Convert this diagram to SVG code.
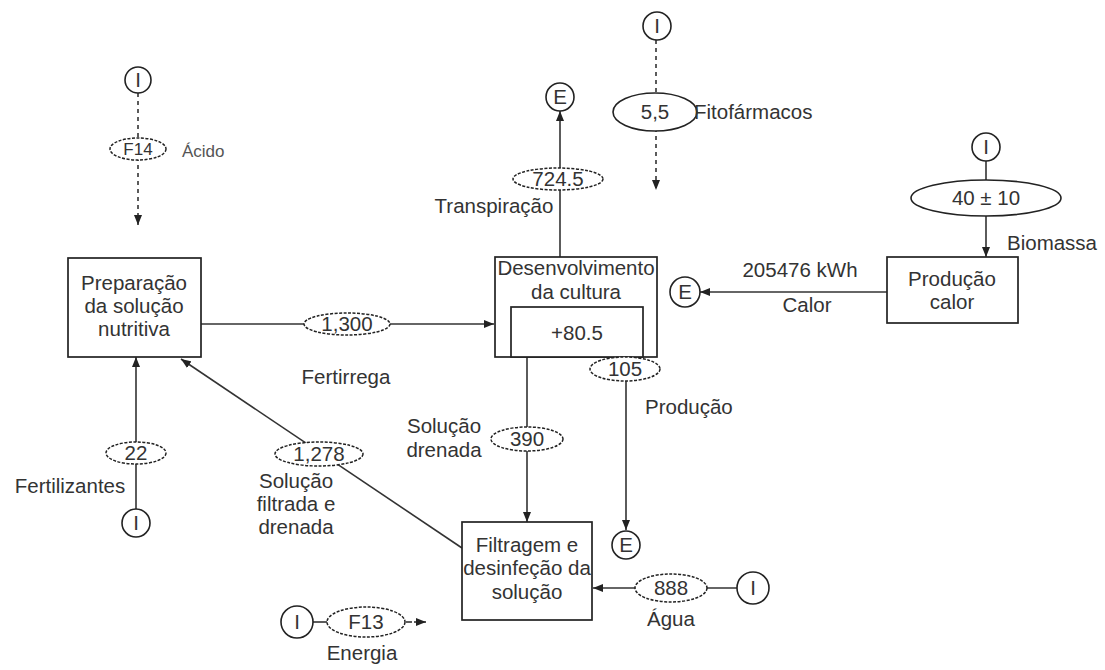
<svg xmlns="http://www.w3.org/2000/svg" width="1105" height="670" viewBox="0 0 1105 670">
<defs>
<marker id="arr" viewBox="0 0 10 8" refX="10" refY="4" markerWidth="10" markerHeight="8" markerUnits="userSpaceOnUse" orient="auto">
<path d="M0,0 L10,4 L0,8 z" fill="#222"/>
</marker>
<style>
text{font-family:"Liberation Sans",Arial,sans-serif;font-size:20.5px;fill:#333;text-anchor:middle}
.lbl{text-anchor:start}
.sm{font-size:17px}
.box{fill:#fff;stroke:#222;stroke-width:1.7}
.term{fill:#fff;stroke:#222;stroke-width:1.6}
.fl{fill:#fff;stroke:#222;stroke-width:1.5;stroke-dasharray:3 1.5}
.fs{fill:#fff;stroke:#222;stroke-width:1.6}
.c{fill:none;stroke:#333;stroke-width:1.6}
.d{fill:none;stroke:#333;stroke-width:1.6;stroke-dasharray:4 4}
</style>
</defs>
<g id="connectors">
<line class="d" x1="138" y1="93" x2="138" y2="225" marker-end="url(#arr)"/>
<line class="c" x1="201" y1="324" x2="494" y2="324" marker-end="url(#arr)"/>
<line class="c" x1="560" y1="257" x2="560" y2="111" marker-end="url(#arr)"/>
<line class="d" x1="656" y1="40" x2="656" y2="190" marker-end="url(#arr)"/>
<line class="c" x1="986" y1="161" x2="986" y2="257" marker-end="url(#arr)"/>
<line class="c" x1="887" y1="292" x2="700" y2="292" marker-end="url(#arr)"/>
<line class="c" x1="527" y1="357" x2="527" y2="522" marker-end="url(#arr)"/>
<line class="c" x1="626" y1="370" x2="626" y2="530" marker-end="url(#arr)"/>
<line class="c" x1="136" y1="509" x2="136" y2="357" marker-end="url(#arr)"/>
<line class="c" x1="462" y1="548" x2="181" y2="359" marker-end="url(#arr)"/>
<line class="c" x1="737" y1="588" x2="593" y2="588" marker-end="url(#arr)"/>
<line class="c" x1="313" y1="622" x2="327" y2="622"/>
<line class="c" x1="406" y1="622" x2="412" y2="622"/>
<line class="c" x1="414" y1="622" x2="426" y2="622" marker-end="url(#arr)"/>
</g>
<g id="n_prep">
<rect class="box" x="68" y="258" width="133" height="99"/>
<text x="134" y="290">Preparação</text>
<text x="134" y="313">da solução</text>
<text x="134" y="336">nutritiva</text>
</g>
<g id="n_desenv">
<rect class="box" x="495" y="257" width="162" height="100"/>
<text x="576" y="275">Desenvolvimento</text>
<text x="576" y="299">da cultura</text>
<rect class="box" x="511" y="307" width="132" height="50"/>
<text x="577" y="340">+80.5</text>
</g>
<g id="n_calor">
<rect class="box" x="887" y="257" width="131" height="66"/>
<text x="952" y="286">Produção</text>
<text x="952" y="309">calor</text>
</g>
<g id="n_filtr">
<rect class="box" x="462" y="522" width="130" height="98"/>
<text x="527" y="552">Filtragem e</text>
<text x="527" y="575">desinfeção da</text>
<text x="527" y="599">solução</text>
</g>
<g id="i_acido"><circle class="term" cx="138" cy="80" r="13"/><text x="138" y="87">I</text></g>
<g id="f_f14"><ellipse class="fl" cx="138" cy="149" rx="28" ry="11"/><text class="sm" x="138" y="155">F14</text><text class="lbl sm" x="182" y="157" style="fill:#555">Ácido</text></g>
<g id="e_transp"><circle class="term" cx="560" cy="97" r="14"/><text x="560" y="104">E</text></g>
<g id="f_transp"><ellipse class="fl" cx="558" cy="179" rx="45" ry="11"/><text x="558" y="186">724.5</text><text x="494" y="213">Transpiração</text></g>
<g id="i_fito"><circle class="term" cx="657" cy="26" r="14"/><text x="657" y="33">I</text></g>
<g id="f_fito"><ellipse class="fs" cx="655" cy="112" rx="42" ry="19"/><text x="655" y="119">5,5</text><text class="lbl" x="694" y="119">Fitofármacos</text></g>
<g id="i_bio"><circle class="term" cx="986" cy="147" r="14"/><text x="986" y="154">I</text></g>
<g id="f_bio"><ellipse class="fs" cx="986" cy="198" rx="75" ry="18"/><text x="986" y="205">40 ± 10</text><text class="lbl" x="1007" y="250">Biomassa</text></g>
<g id="e_calor"><circle class="term" cx="685" cy="292" r="15"/><text x="685" y="299">E</text></g>
<g id="f_calor"><text x="800" y="277">205476 kWh</text><text x="807" y="312">Calor</text></g>
<g id="f_fert"><ellipse class="fl" cx="347" cy="324" rx="43" ry="11"/><text x="347" y="331">1,300</text><text x="346" y="384">Fertirrega</text></g>
<g id="f_prod"><ellipse class="fl" cx="625" cy="369" rx="35" ry="12"/><text x="625" y="376">105</text><text class="lbl" x="645" y="414">Produção</text></g>
<g id="e_prod"><circle class="term" cx="626" cy="545" r="14"/><text x="626" y="552">E</text></g>
<g id="f_dren"><ellipse class="fl" cx="527" cy="439" rx="36" ry="12"/><text x="527" y="446">390</text><text x="444" y="433">Solução</text><text x="444" y="457">drenada</text></g>
<g id="i_fertil"><circle class="term" cx="136" cy="523" r="14"/><text x="136" y="530">I</text></g>
<g id="f_fertil"><ellipse class="fl" cx="136" cy="453" rx="30" ry="11"/><text x="136" y="460">22</text><text x="70" y="493">Fertilizantes</text></g>
<g id="f_filt"><ellipse class="fl" cx="319" cy="454" rx="44" ry="12"/><text x="319" y="461">1,278</text><text x="296" y="488">Solução</text><text x="296" y="511">filtrada e</text><text x="296" y="534">drenada</text></g>
<g id="i_agua"><circle class="term" cx="753" cy="588" r="16"/><text x="753" y="595">I</text></g>
<g id="f_agua"><ellipse class="fl" cx="671" cy="588" rx="36" ry="14"/><text x="671" y="595">888</text><text x="671" y="626">Água</text></g>
<g id="i_energ"><circle class="term" cx="297" cy="622" r="16"/><text x="297" y="629">I</text></g>
<g id="f_energ"><ellipse class="fl" cx="366" cy="622" rx="39" ry="15"/><text x="366" y="629">F13</text><text x="362" y="660">Energia</text></g>
</svg>
